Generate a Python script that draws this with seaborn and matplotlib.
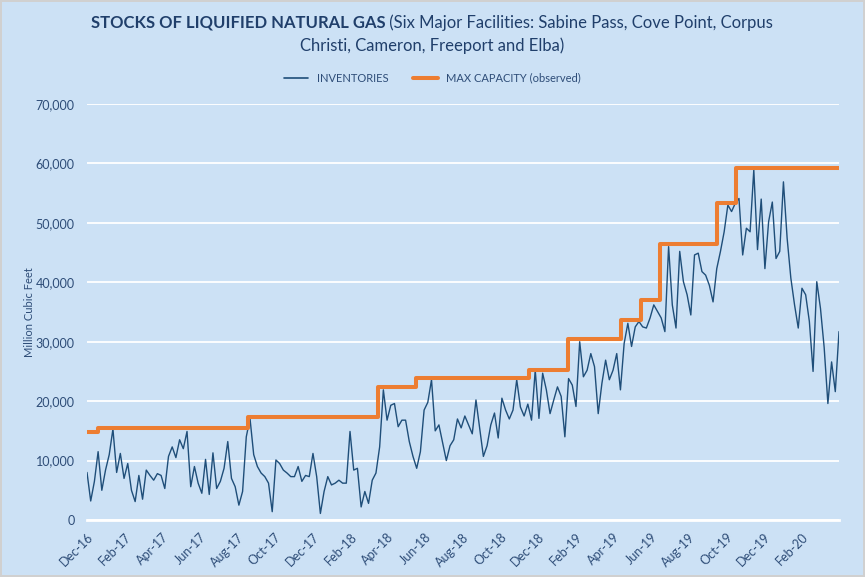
import pandas as pd
import matplotlib.pyplot as plt
import matplotlib.dates as mdates
from matplotlib.ticker import StrMethodFormatter
from matplotlib.lines import Line2D
import seaborn as sns

start_date = "2016-12-01"
end_date = "2020-04-01"
inv_2016_17 = [8.0, 3.2, 6.5, 11.5, 5.0, 8.4, 11.0, 15.3, 8.0, 11.2,
               7.0, 9.5, 5.0, 3.1, 7.5, 3.5, 8.4, 7.5, 6.7, 7.8,
               7.5, 5.3, 10.7, 12.3, 10.5, 13.5, 12.0, 14.9, 5.6,
               9.0, 6.2, 4.5, 10.2, 4.3, 11.3, 5.3, 6.5, 8.7, 13.2,
               7.0, 5.6, 2.5, 4.8, 14.0, 17.1, 11.0, 9.0, 7.9, 7.3,
               6.2, 1.4, 10.1, 9.5, 8.4, 7.9, 7.3, 7.3, 9.0, 6.5, 7.5]
inv_2018 = [7.3, 11.2, 7.3, 1.1, 4.8, 7.3, 5.9, 6.2, 6.7, 6.2,
            6.2, 14.9, 8.4, 8.7, 2.2, 4.8, 2.8, 6.7, 7.9, 12.3,
            21.9, 16.8, 19.3, 19.6, 15.7, 16.8, 16.8, 13.2, 10.7, 8.7,
            11.5, 18.5, 19.8, 23.6, 15.0, 16.0, 13.0, 10.0, 12.5, 13.5,
            17.0, 15.5, 17.5, 16.0, 14.5, 20.2, 15.5, 10.7, 12.5, 16.0,
            18.0, 13.8, 20.5, 18.5, 17.0, 18.5, 23.6, 19.0, 17.5, 19.5, 16.8]
inv_2019 = [25.2, 17.1, 24.7, 21.9, 17.9, 20.2, 22.4, 20.8, 14.0, 23.8,
            22.7, 19.1, 30.0, 24.1, 25.2, 28.0, 25.8, 17.9, 23.0, 26.9,
            23.6, 25.2, 28.0, 21.9, 29.7, 33.1, 29.2, 32.5, 33.4, 32.5, 32.3,
            34.0, 36.2, 35.1, 34.0, 31.7, 46.0, 36.2, 32.3, 45.2, 40.1,
            37.9, 34.5, 44.6, 44.9, 41.8, 41.2, 39.5, 36.7, 42.3, 45.2,
            48.5, 53.0, 51.9, 53.3, 54.1, 44.6, 49.1, 48.5, 58.9, 45.5]
inv_2020 = [54.0, 42.3, 50.2, 53.5, 44.0, 45.2, 56.9, 47.4, 40.7, 36.2,
            32.3, 39.0, 37.9, 33.4, 25.0, 40.1, 35.6, 29.0, 19.6, 26.6,
            21.6, 31.7]

# Max capacity (observed) step changes
cap_dates = ["2016-12-01", "2016-12-18", "2017-08-18", "2018-03-17",
             "2018-05-17", "2018-11-17", "2019-01-18", "2019-04-15",
             "2019-05-17", "2019-06-16", "2019-09-16", "2019-10-17",
             "2020-04-01"]
cap_levels = [14800, 15500, 17300, 22400, 23900, 25200, 30400, 33600,
              37100, 46400, 53400, 59200, 59200]

tick_labels = ["Dec-16", "Feb-17", "Apr-17", "Jun-17", "Aug-17", "Oct-17",
               "Dec-17", "Feb-18", "Apr-18", "Jun-18", "Aug-18", "Oct-18",
               "Dec-18", "Feb-19", "Apr-19", "Jun-19", "Aug-19", "Oct-19",
               "Dec-19", "Feb-20", "Apr-20"]

bg = "#cce1f5"
inv_color = "#1f4e79"
cap_color = "#ed7d31"
text_color = "#2e4d78"
title_color = "#203f6b"

sns.set_style("white")
plt.rcParams["font.family"] = ["Lato", "DejaVu Sans"]

inventories = inv_2016_17 + inv_2018 + inv_2019 + inv_2020
inv_df = pd.DataFrame({
    "date": pd.date_range(start_date, end_date, periods=len(inventories)),
    "stock": [v * 1000 for v in inventories],
})
cap_df = pd.DataFrame({"date": pd.to_datetime(cap_dates), "cap": cap_levels})

fig, ax = plt.subplots(figsize=(8.65, 5.77), dpi=100)
fig.subplots_adjust(left=87 / 865, right=839 / 865, bottom=1 - 520 / 577, top=1 - 104 / 577)
fig.patch.set_facecolor(bg)
fig.patch.set_edgecolor("#d0d0d0")
fig.patch.set_linewidth(1.5)
ax.set_facecolor(bg)

sns.lineplot(data=inv_df, x="date", y="stock", color=inv_color, lw=1.0,
             estimator=None, ax=ax)
sns.lineplot(data=cap_df, x="date", y="cap", color=cap_color, lw=2.9,
             drawstyle="steps-post", estimator=None, ax=ax)

ax.set_xlim(pd.Timestamp(start_date), pd.Timestamp(end_date))
ax.set_ylim(0, 70000)
ax.set_yticks(range(0, 70001, 10000))
ax.yaxis.set_major_formatter(StrMethodFormatter("{x:,.0f}"))
ax.yaxis.grid(True, color="white", lw=1.3)
ax.xaxis.grid(False)
ax.set_axisbelow(True)

tick_pos = [pd.to_datetime(t, format="%b-%y") for t in tick_labels]
ax.set_xticks(tick_pos)
ax.set_xticklabels(tick_labels[:-1] + [""], rotation=45, ha="right",
                   rotation_mode="anchor", fontsize=9, color=text_color)
ax.tick_params(axis="x", colors="white", length=5, width=1.6, pad=3,
               labelcolor=text_color)
ax.tick_params(axis="y", length=0, pad=9, labelsize=9, labelcolor=text_color)

for s in ["top", "right", "left"]:
    ax.spines[s].set_visible(False)
ax.spines["bottom"].set_color("white")
ax.spines["bottom"].set_linewidth(2)

ax.set_xlabel("")
ax.set_ylabel("Million Cubic Feet", fontsize=8, color=text_color, labelpad=0)

# Title: bold lead then normal text, centred as one line
fig.canvas.draw()
r = fig.canvas.get_renderer()
W = fig.get_figwidth() * fig.dpi
y1 = 1 - 23 / 577
t1 = fig.text(0, y1, "STOCKS OF LIQUIFIED NATURAL GAS", fontsize=12,
              fontweight="bold", color=title_color, va="center")
t2 = fig.text(0, y1, " (Six Major Facilities: Sabine Pass, Cove Point, Corpus",
              fontsize=12, color=title_color, va="center")
w1 = t1.get_window_extent(r).width
w2 = t2.get_window_extent(r).width
x0 = (432 - (w1 + w2) / 2) / W
t1.set_x(x0)
t2.set_x(x0 + w1 / W)
fig.text(432 / W, 1 - 46 / 577, "Christi, Cameron, Freeport and Elba)",
         fontsize=12, color=title_color, ha="center", va="center")

handles = [Line2D([], [], color=inv_color, lw=1.2),
           Line2D([], [], color=cap_color, lw=2.9)]
fig.legend(handles, ["INVENTORIES", "MAX CAPACITY (observed)"],
           loc="center", bbox_to_anchor=(0.5, 1 - 78 / 577), ncol=2,
           frameon=False, fontsize=8, handlelength=2.2, columnspacing=2.2,
           labelcolor=text_color)

plt.savefig("out.png", dpi=100, facecolor=bg)
